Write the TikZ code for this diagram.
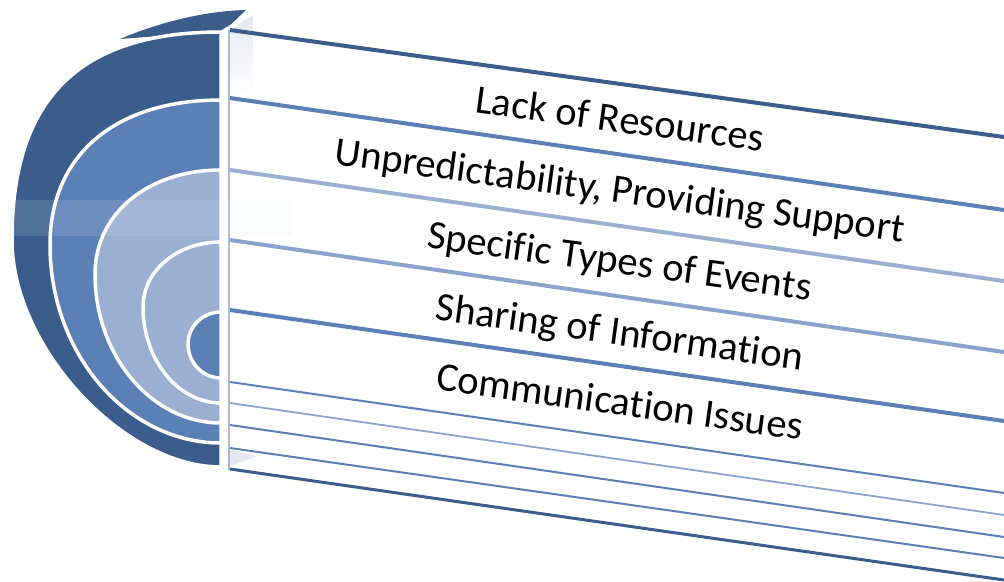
\documentclass[tikz,border=0pt]{standalone}
\usepackage{fontspec}
\setmainfont{Carlito}[Ligatures=CommonOff]
\usetikzlibrary{calc,math}
\definecolor{ringdark}{HTML}{3A5D8C}
\definecolor{ringmid}{HTML}{5B80B6}
\definecolor{ringlight}{HTML}{9AAFD1}
\definecolor{ringpale}{HTML}{8CA4CD}
\definecolor{facegray}{HTML}{E4E8F0}
\definecolor{edgegray}{HTML}{AFBBCD}
\definecolor{bandtint}{HTML}{DFE6F3}

\begin{document}
\begin{tikzpicture}[x=1pt,y=-1pt,
    ring/.style={draw=white,line width=3.5pt},
    striptext/.style={font=\fontsize{40.5}{48}\selectfont,rotate=-7.8,anchor=base,inner sep=0pt}]

  \useasboundingbox (0,0) rectangle (1004,581);

  % lid on top of the outer ring
  \fill[ringdark] (120,39) .. controls (160,22) and (205,11) .. (246,10) -- (224,31) -- cycle;

  % nested half rings
  \foreach \i/\yt/\xl/\yl/\yb/\kt/\kb/\c in {1/32/12/240/467/0.68/0.47/ringdark,
      2/100/50/245/443/0.62/0.55/ringmid,3/170/95/274/423/0.58/0.55/ringlight,
      4/242/143/307/403/0.56/0.55/ringlight,5/312/188/344/378/0.55/0.55/ringmid}
   {
     \tikzmath{
       \topcx = 221-\kt*(221-\xl);
       \topcy = \yl-\kt*(\yl-\yt);
       \botcy = \yl+\kb*(\yb-\yl);
       \botcx = 221-\kb*(221-\xl);
     }
     \filldraw[ring,fill=\c] (221,\yt) .. controls (\topcx,\yt) and (\xl,\topcy) .. (\xl,\yl)
        .. controls (\xl,\botcy) and (\botcx,\yb) .. (221,\yb) -- cycle;
   }

  % side face of the box
  \shade[top color=facegray,bottom color=white] (229,31) -- (253,14) -- (253,88) -- (229,98) -- cycle;
  \fill[facegray] (229,449) -- (256,456) -- (229,467) -- cycle;
  \draw[white,line width=3pt] (223,31) -- (255,12);
  \coordinate (edge_top) at (229,30);
  \coordinate (edge_bot) at (229,470);
  \draw[edgegray,line width=1.2pt] (edge_top) -- (edge_bot);

  % strip lines
  \foreach \i/\yl/\yr/\c/\w in {1/30/137/ringdark/4,2/98/210/ringmid/4,3/170/281/ringlight/4,
      4/240/352/ringpale/4,5/310/421/ringmid/4,6/382/493/ringmid/2,7/403/515/ringpale/1.8,
      8/425/537/ringmid/2,9/448/558/ringmid/2,10/469/580/ringdark/3}
   {
     \coordinate (left_\i) at (230,\yl);
     \coordinate (right_\i) at (1004,\yr);
     \draw[draw=\c,line width=\w pt] (left_\i) -- (right_\i);
   }

  % faint blurred band
  \fill[bandtint,opacity=0.14] (8,200) rectangle (292,236);

  % strip texts
  \foreach \i/\yb/\t in {1/132/{Lack of Resources},2/203/{Unpredictability, Providing Support},
      3/274/{Specific Types of Events},4/345/{Sharing of Information},5/415/{Communication Issues}}
   {
     \node (strip_\i) [striptext] at (618,\yb) {\t};
   }

\end{tikzpicture}
\end{document}
